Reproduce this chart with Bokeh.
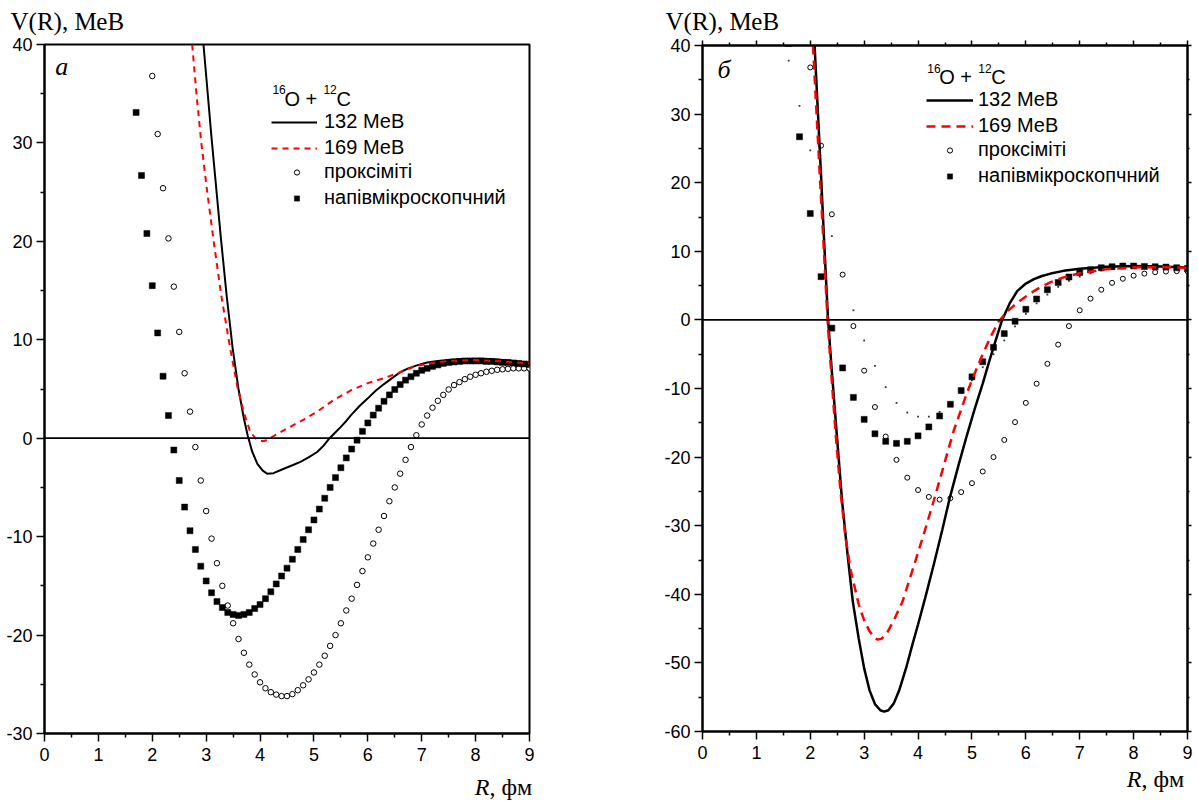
from bokeh.plotting import figure
from bokeh.models import (Range1d, FixedTicker, LinearAxis, Span, Label,
                          Legend, LegendItem, CustomJSTickFormatter,
                          CustomLabelingPolicy)
from bokeh.layouts import row, column
from bokeh.embed import file_html
from bokeh.resources import INLINE

# ---------------- data ----------------
# proximity potential (open circles), R grid 0.1 fm
prox_r = [2.0, 2.1, 2.2, 2.3, 2.4, 2.5, 2.6, 2.7, 2.8, 2.9,
          3.0, 3.1, 3.2, 3.3, 3.4, 3.5, 3.6, 3.7, 3.8, 3.9,
          4.0, 4.1, 4.2, 4.3, 4.4, 4.5, 4.6, 4.7, 4.8, 4.9,
          5.0, 5.1, 5.2, 5.3, 5.4, 5.5, 5.6, 5.7, 5.8, 5.9,
          6.0, 6.1, 6.2, 6.3, 6.4, 6.5, 6.6, 6.7, 6.8, 6.9,
          7.0, 7.1, 7.2, 7.3, 7.4, 7.5, 7.6, 7.7, 7.8, 7.9,
          8.0, 8.1, 8.2, 8.3, 8.4, 8.5, 8.6, 8.7, 8.8, 8.9, 9.0]
prox_v = [36.8, 30.9, 25.4, 20.3, 15.4, 10.8, 6.6, 2.7, -0.9, -4.3,
          -7.4, -10.2, -12.7, -15.0, -17.0, -18.8, -20.4, -21.8, -23.0, -24.0,
          -24.8, -25.4, -25.8, -26.05, -26.2, -26.2, -26.0, -25.6, -25.1, -24.5,
          -23.8, -23.0, -22.1, -21.1, -20.0, -18.8, -17.5, -16.3, -14.9, -13.5,
          -12.1, -10.7, -9.3, -7.9, -6.4, -5.0, -3.6, -2.2, -0.9, 0.3,
          1.4, 2.3, 3.1, 3.8, 4.4, 4.95, 5.4, 5.7, 6.0, 6.25,
          6.45, 6.6, 6.75, 6.85, 6.95, 7.0, 7.05, 7.1, 7.1, 7.1, 7.1]

# semi-microscopic potential (filled squares), R grid 0.1 fm
semi_r = [1.6, 1.7, 1.8, 1.9,
          2.0, 2.1, 2.2, 2.3, 2.4, 2.5, 2.6, 2.7, 2.8, 2.9,
          3.0, 3.1, 3.2, 3.3, 3.4, 3.5, 3.6, 3.7, 3.8, 3.9,
          4.0, 4.1, 4.2, 4.3, 4.4, 4.5, 4.6, 4.7, 4.8, 4.9,
          5.0, 5.1, 5.2, 5.3, 5.4, 5.5, 5.6, 5.7, 5.8, 5.9,
          6.0, 6.1, 6.2, 6.3, 6.4, 6.5, 6.6, 6.7, 6.8, 6.9,
          7.0, 7.1, 7.2, 7.3, 7.4, 7.5, 7.6, 7.7, 7.8, 7.9,
          8.0, 8.1, 8.2, 8.3, 8.4, 8.5, 8.6, 8.7, 8.8, 8.9, 9.0]
semi_v = [40.3, 33.1, 26.7, 20.8,
          15.5, 10.7, 6.3, 2.3, -1.2, -4.3, -7.0, -9.4, -11.3, -13.0,
          -14.5, -15.7, -16.6, -17.2, -17.7, -17.9, -18.0, -17.9, -17.7, -17.3,
          -16.9, -16.3, -15.6, -14.8, -14.0, -13.2, -12.3, -11.3, -10.3, -9.3,
          -8.3, -7.2, -6.1, -5.0, -4.0, -3.0, -2.0, -1.1, -0.2, 0.7,
          1.55, 2.35, 3.05, 3.75, 4.4, 4.95, 5.45, 5.9, 6.25, 6.6,
          6.9, 7.1, 7.3, 7.45, 7.6, 7.7, 7.75, 7.8, 7.85, 7.85,
          7.85, 7.85, 7.8, 7.8, 7.75, 7.7, 7.7, 7.65, 7.6, 7.55, 7.5]

# small dots (panel b only), R grid 0.2 fm
dots_r = [1.6, 1.8, 2.0, 2.2, 2.4, 2.6, 2.8, 3.0, 3.2, 3.4, 3.6, 3.8,
          4.0, 4.2, 4.4, 4.6, 4.8, 5.0, 5.2, 5.4, 5.6, 5.8, 6.0, 6.2,
          6.4, 6.6, 6.8, 7.0, 7.2, 7.4, 7.6, 7.8, 8.0, 8.2, 8.4, 8.6, 8.8, 9.0]
dots_v = [37.8, 31.2, 24.7, 18.3, 12.2, 6.6, 1.4, -3.0, -6.7, -9.8, -12.1, -13.5,
          -14.1, -14.1, -13.4, -12.2, -10.6, -8.8, -6.9, -5.0, -3.0, -0.95, 0.9, 2.4,
          3.7, 4.8, 5.7, 6.3, 6.8, 7.2, 7.45, 7.6, 7.65, 7.65, 7.6, 7.55, 7.5, 7.45]

# panel a: 132 MeV (solid) and 169 MeV (dashed)
a132_r = [2.95, 3.1, 3.27, 3.38, 3.49, 3.6, 3.7, 3.77, 3.85, 3.95, 4.05, 4.13,
          4.25, 4.44, 4.6, 4.75, 4.9, 5.06, 5.18, 5.29, 5.4, 5.49, 5.6, 5.68,
          5.85, 5.99, 6.15, 6.3, 6.45, 6.6, 6.75, 6.91, 7.1, 7.3, 7.53, 7.8,
          8.15, 8.46, 8.75, 9.0]
a132_v = [40.0, 30.5, 20.5, 14.5, 9.2, 5.0, 2.0, 0.3, -1.3, -2.6, -3.3, -3.6,
          -3.55, -3.1, -2.75, -2.4, -1.95, -1.4, -0.75, 0.0, 0.6, 1.1, 1.75, 2.3,
          3.3, 4.0, 4.85, 5.5, 6.1, 6.7, 7.1, 7.4, 7.7, 7.85, 7.96, 8.05,
          8.07, 7.96, 7.82, 7.65]
a169_r = [2.74, 2.82, 2.91, 3.02, 3.14, 3.28, 3.45, 3.58, 3.7, 3.82, 3.95, 4.05,
          4.13, 4.32, 4.56, 4.81, 5.06, 5.37, 5.7, 6.0, 6.3, 6.6, 6.9, 7.2,
          7.5, 8.0, 8.5, 9.0]
a169_v = [40.0, 35.0, 30.0, 25.0, 20.0, 14.5, 9.0, 5.2, 2.6, 0.6, -0.2, -0.3,
          -0.2, 0.45, 1.15, 1.9, 2.7, 3.9, 4.9, 5.6, 6.1, 6.7, 7.35, 7.65,
          7.85, 7.95, 7.8, 7.6]

# panel b: 132 MeV (solid) and 169 MeV (dashed)
b132_r = [2.08, 2.14, 2.2, 2.26, 2.33, 2.4, 2.5, 2.59, 2.7, 2.79, 2.9, 3.0,
          3.1, 3.2, 3.3, 3.37, 3.45, 3.55, 3.65, 3.78, 3.9, 4.0, 4.14, 4.3,
          4.45, 4.59, 4.75, 4.9, 5.05, 5.2, 5.3, 5.4, 5.56, 5.7, 5.84, 6.0,
          6.15, 6.3, 6.46, 6.7, 7.0, 7.5, 8.0, 8.5, 9.0]
b132_v = [40.0, 30.5, 21.0, 11.0, 0.0, -7.5, -17.5, -26.4, -34.8, -41.1, -46.5, -50.8,
          -54.0, -56.0, -56.9, -57.1, -56.9, -55.9, -54.0, -50.7, -47.2, -44.4, -40.3, -35.4,
          -30.6, -25.9, -21.2, -17.0, -13.0, -9.3, -6.6, -4.0, 0.0, 2.4, 4.2, 5.3,
          5.95, 6.4, 6.75, 7.15, 7.45, 7.75, 7.85, 7.8, 7.65]
b169_r = [2.05, 2.11, 2.17, 2.24, 2.32, 2.4, 2.48, 2.56, 2.65, 2.75, 2.9, 3.0,
          3.1, 3.2, 3.25, 3.32, 3.42, 3.55, 3.71, 3.9, 4.1, 4.29, 4.45, 4.66,
          4.9, 5.05, 5.2, 5.35, 5.5, 5.65, 5.84, 6.0, 6.15, 6.3, 6.46, 6.7,
          7.0, 7.5, 8.0, 8.5, 9.0]
b169_v = [40.0, 31.0, 22.0, 12.0, 0.0, -9.0, -17.5, -24.9, -31.5, -36.5, -41.5, -43.8,
          -45.4, -46.4, -46.6, -46.5, -45.7, -43.8, -41.1, -36.4, -31.4, -26.4, -22.0, -16.2,
          -10.8, -7.8, -5.0, -2.4, -0.2, 1.2, 2.5, 3.4, 4.2, 4.9, 5.5, 6.2,
          6.8, 7.4, 7.65, 7.7, 7.6]

# ticks
x_major = [0, 1, 2, 3, 4, 5, 6, 7, 8, 9]
x_minor = [0.5, 1.5, 2.5, 3.5, 4.5, 5.5, 6.5, 7.5, 8.5]
ya_major = [-30, -20, -10, 0, 10, 20, 30, 40]
ya_minor = [-25, -15, -5, 5, 15, 25, 35]
yb_major = [-60, -50, -40, -30, -20, -10, 0, 10, 20, 30, 40]
yb_minor = [-55, -45, -35, -25, -15, -5, 5, 15, 25, 35]

# texts
y_title = "V(R), МеВ"
x_title_r = "R"
x_title_rest = ", фм"
legend_title = ["16", "O + ", "12", "C"]
lab_132 = "132 МеВ"
lab_169 = "169 МеВ"
lab_prox = "проксіміті"
lab_semi = "напівмікроскопчний"

SANS = "Liberation Sans"
SERIF = "Liberation Serif"
RED = "#ff0000"
FMT = "return String(tick);"
NO_LABELS = "return new indices.constructor(indices.size, 0);"


def style_axis(ax, tick_out=8, minor_out=4, labels=True, standoff=4):
    ax.axis_line_color = "black"
    ax.axis_line_width = 2
    ax.major_tick_line_color = "black"
    ax.minor_tick_line_color = "black"
    ax.major_tick_line_width = 1.5
    ax.minor_tick_line_width = 1.5
    ax.major_tick_out = tick_out
    ax.major_tick_in = 0
    ax.minor_tick_out = minor_out
    ax.minor_tick_in = 0
    if labels:
        ax.formatter = CustomJSTickFormatter(code=FMT)
        ax.major_label_text_font = SANS
        ax.major_label_text_font_size = "18px"
        ax.major_label_text_color = "black"
        ax.major_label_standoff = standoff
    else:
        ax.major_label_policy = CustomLabelingPolicy(code=NO_LABELS)
        ax.major_label_text_font_size = "1px"
        ax.major_label_standoff = 0


def make_strip(width, height):
    s = figure(width=width, height=height, x_range=Range1d(0, width),
               y_range=Range1d(0, height), output_backend="svg", toolbar_location=None,
               x_axis_location=None, y_axis_location=None, title_location=None,
               min_border=0, frame_align=False)
    s.outline_line_color = None
    s.xgrid.visible = False
    s.ygrid.visible = False
    return s


def make_panel(width, height, border_left, border_right, border_bottom, y0, y1, ymaj, ymin):
    p = figure(width=width, height=height, x_range=Range1d(0, 9), y_range=Range1d(y0, y1),
               output_backend="svg", toolbar_location=None, title_location=None,
               min_border_left=border_left, min_border_right=border_right,
               min_border_top=8, min_border_bottom=border_bottom, frame_align=False)
    p.xgrid.visible = False
    p.ygrid.visible = False
    p.outline_line_color = "black"
    p.outline_line_width = 2
    p.outline_line_alpha = 1
    p.background_fill_color = "white"
    p.border_fill_color = "white"
    xt = FixedTicker(ticks=x_major, minor_ticks=x_minor)
    yt = FixedTicker(ticks=ymaj, minor_ticks=ymin)
    p.xaxis.ticker = xt
    p.yaxis.ticker = yt
    for ax in p.xaxis:
        style_axis(ax, standoff=6)
    for ax in p.yaxis:
        style_axis(ax, standoff=4)
    p.add_layout(Span(location=0, dimension="width", line_color="black", line_width=1.8))
    return p, xt, yt


def add_legend_title(p, x, y, sup_dy):
    offs = [0, 12, 51, 64]
    sizes = ["12px", "20px", "12px", "20px"]
    dys = [sup_dy, 0, sup_dy, 0]
    for t, o, s, d in zip(legend_title, offs, sizes, dys):
        p.add_layout(Label(x=x, y=y, x_offset=o, y_offset=d, text=t, text_font=SANS,
                           text_font_size=s, text_color="black", text_align="left",
                           text_baseline="alphabetic"))


def add_legends(p, lines, marks, locA, locB, gw, standA, standB):
    common = dict(padding=0, margin=0, spacing=3, glyph_height=22, label_height=22,
                  border_line_color=None, background_fill_alpha=0,
                  label_text_font=SANS, label_text_font_size="20px",
                  label_text_color="black")
    legA = Legend(items=[LegendItem(label=lab_132, renderers=[lines[0]]),
                         LegendItem(label=lab_169, renderers=[lines[1]])],
                  location=locA, glyph_width=gw, label_standoff=standA, **common)
    legB = Legend(items=[LegendItem(label=lab_prox, renderers=[marks[0]]),
                         LegendItem(label=lab_semi, renderers=[marks[1]])],
                  location=locB, glyph_width=13, label_standoff=standB, **common)
    p.add_layout(legA)
    p.add_layout(legB)


def title_strips(width, bot_h, ytx, yty, split_x, base_y):
    top = make_strip(width, 36)
    top.add_layout(Label(x=ytx, y=yty, text=y_title, text_font=SERIF,
                         text_font_size="25px", text_color="black",
                         text_align="left", text_baseline="alphabetic"))
    bot = make_strip(width, bot_h)
    bot.add_layout(Label(x=split_x, y=base_y, text=x_title_r, text_font=SERIF,
                         text_font_size="24px", text_font_style="italic",
                         text_color="black", text_align="right",
                         text_baseline="alphabetic"))
    bot.add_layout(Label(x=split_x, y=base_y, text=x_title_rest, text_font=SERIF,
                         text_font_size="24px", text_color="black",
                         text_align="left", text_baseline="alphabetic"))
    return top, bot


# ---------------- panel a ----------------
WA = 568
pa, xta, yta = make_panel(WA, 733, 44, 39, 36, -30, 40, ya_major, ya_minor)
ca = pa.scatter(prox_r, prox_v, marker="circle", size=5.5, fill_color="white",
                line_color="black", line_width=1)
sa = pa.scatter(semi_r, semi_v, marker="square", size=6, fill_color="black",
                line_color="black", line_width=0.5)
la1 = pa.line(a132_r, a132_v, line_color="black", line_width=2)
la2 = pa.line(a169_r, a169_v, line_color=RED, line_width=2, line_dash="6 5")
pa.add_layout(Label(x=0.2, y=37.77, text="а", text_font=SERIF, text_font_size="26px",
                    text_font_style="italic", text_color="black", text_baseline="alphabetic"))
add_legend_title(pa, 4.23, 34.51, 9.2)
add_legends(pa, [la1, la2], [ca, sa], (227, 574), (246, 524), 46, 7, 21)
ta, ba = title_strips(WA, 34, 10, 14.7, 489, 16.4)

# ---------------- panel b ----------------
WB = 628
pb, xtb, ytb = make_panel(WB, 729, 134, 9, 34, -60, 40, yb_major, yb_minor)
top_ax = LinearAxis(ticker=xtb)
style_axis(top_ax, tick_out=5, minor_out=3, labels=False)
pb.add_layout(top_ax, "above")
right_ax = LinearAxis(ticker=ytb)
style_axis(right_ax, tick_out=4, minor_out=2, labels=False)
pb.add_layout(right_ax, "right")

pb.scatter(dots_r, dots_v, marker="square", size=1.8, fill_color="#333333",
           line_color=None)
cb = pb.scatter(prox_r[::2], prox_v[::2], marker="circle", size=5, fill_color="white",
                line_color="black", line_width=1)
sb = pb.scatter(semi_r[::2], semi_v[::2], marker="square", size=6, fill_color="black",
                line_color="black", line_width=0.5)
lb1 = pb.line(b132_r, b132_v, line_color="black", line_width=2.5)
lb2 = pb.line(b169_r, b169_v, line_color=RED, line_width=2.5, line_dash="9 6")
pb.add_layout(Label(x=0.28, y=36.52, text="б", text_font=SERIF, text_font_size="26px",
                    text_font_style="italic", text_color="black", text_baseline="alphabetic"))
add_legend_title(pb, 4.17, 35.44, 7.8)
add_legends(pb, [lb1, lb2], [cb, sb], (224, 594), (241, 544), 47, 5, 22)
tb, bb = title_strips(WB, 38, 97, 15.2, 573, 24.4)

layout = row(column(ta, pa, ba), column(tb, pb, bb))
open("out.html", "w").write(file_html(layout, INLINE))
